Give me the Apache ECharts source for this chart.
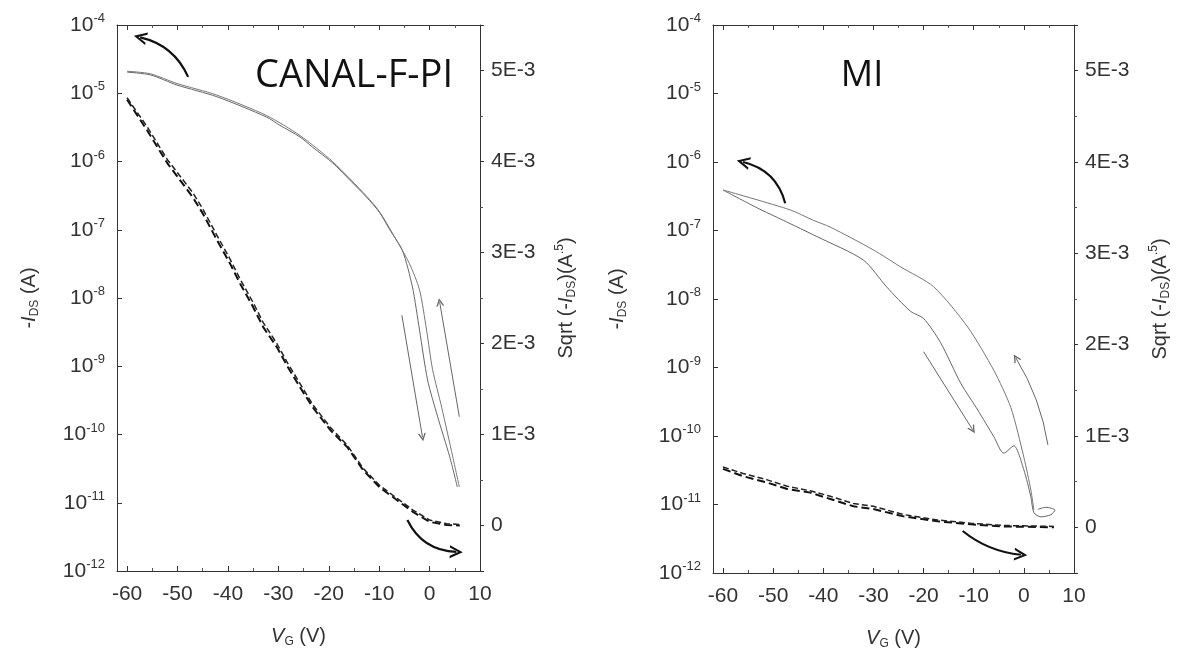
<!DOCTYPE html>
<html><head><meta charset="utf-8">
<script src="https://cdn.jsdelivr.net/npm/echarts@6/dist/echarts.min.js"></script>
<style>html,body{margin:0;padding:0;background:#fff}#c{width:1177px;height:658px}</style>
</head><body><div id="c"></div>
<script>
// ---------------- data ----------------
const panelTitles = ['CANAL-F-PI', 'MI'];

// CANAL-F-PI : -I_DS (log, left axis)
const canalFwdV = [-60, -55.4, -50.1, -42.2, -32.3, -29.7, -25.7, -23.2, -19.2, -16.4, -12.5, -9.9, -7.9, -5.4, -3.4, -2.0, -0.4, 1.6, 4.0, 5.5];
const canalFwdI = [2.04e-5, 1.86e-5, 1.32e-5, 8.9e-6, 4.47e-6, 3.39e-6, 2.29e-6, 1.62e-6, 9.5e-7, 5.9e-7, 3.0e-7, 1.78e-7, 1.0e-7, 5.0e-8, 1.45e-8, 3.4e-9, 6.3e-10, 1.82e-10, 4.7e-11, 1.7e-11];
const canalRevV = [-60, -55.4, -50.1, -42.2, -32.3, -25.7, -19.2, -12.5, -9.9, -6.3, -4.0, -2.0, -0.6, 0.6, 2.4, 4.6, 5.9];
const canalRevI = [2.10e-5, 1.93e-5, 1.39e-5, 9.4e-6, 4.7e-6, 2.4e-6, 9.9e-7, 3.1e-7, 1.82e-7, 6.5e-8, 3.2e-8, 1.32e-8, 3.4e-9, 8.9e-10, 2.5e-10, 4.7e-11, 1.7e-11];
// CANAL-F-PI : sqrt(-I_DS) (right axis)
const canalSqrtV = [-60, -56, -52, -47, -45, -42.2, -39.6, -37.6, -35, -33, -30.3, -28.1, -25.7, -23.2, -19.7, -16.3, -13.2, -9.9, -6.5, -3.3, 0, 3.4, 6];
const canalSqrtFwd = [4.68e-3, 4.34e-3, 3.98e-3, 3.61e-3, 3.43e-3, 3.14e-3, 2.88e-3, 2.66e-3, 2.40e-3, 2.18e-3, 1.96e-3, 1.74e-3, 1.52e-3, 1.30e-3, 1.05e-3, 0.86e-3, 0.61e-3, 0.42e-3, 0.28e-3, 0.15e-3, 0.04e-3, 0.005e-3, 0];
const canalSqrtRev = [4.70e-3, 4.38e-3, 4.02e-3, 3.66e-3, 3.48e-3, 3.19e-3, 2.93e-3, 2.71e-3, 2.45e-3, 2.23e-3, 2.00e-3, 1.78e-3, 1.56e-3, 1.33e-3, 1.08e-3, 0.88e-3, 0.63e-3, 0.44e-3, 0.30e-3, 0.17e-3, 0.06e-3, 0.02e-3, 0.01e-3];

// MI : -I_DS (log, left axis)
const miFwdV = [-60, -53.2, -48, -41.2, -32, -27.4, -22.6, -20, -16.6, -12.6, -9.2, -6, -4, -2, 0, 1.4, 2, 3.4, 5.4, 6.2, 4.4, 2.8];
const miFwdI = [3.9e-7, 2.14e-7, 1.41e-7, 8.1e-8, 3.7e-8, 1.51e-8, 6.6e-9, 5.2e-9, 2.3e-9, 5.9e-10, 2.4e-10, 9.8e-11, 5.6e-11, 7.2e-11, 3.2e-11, 1.29e-11, 7.6e-12, 6.6e-12, 7.1e-12, 8.3e-12, 9.1e-12, 8.5e-12];
const miRevV = [-60, -46.6, -42, -38.6, -30, -24.6, -18, -11.2, -6, -2.6, 0, 1.4, 2];
const miRevI = [3.9e-7, 2.0e-7, 1.41e-7, 1.12e-7, 5.2e-8, 2.95e-8, 1.51e-8, 3.9e-9, 9.1e-10, 2.6e-10, 4.9e-11, 1.62e-11, 8.3e-12];
// MI : sqrt(-I_DS) (right axis)
const miSqrtV = [-60, -56, -51.2, -47.2, -42.6, -38.6, -34, -30, -24, -17.2, -10.6, -4, 6];
const miSqrtFwd = [0.64e-3, 0.56e-3, 0.49e-3, 0.42e-3, 0.38e-3, 0.31e-3, 0.23e-3, 0.20e-3, 0.12e-3, 0.066e-3, 0.033e-3, 0.01e-3, 0];
const miSqrtRev = [0.66e-3, 0.59e-3, 0.52e-3, 0.45e-3, 0.40e-3, 0.34e-3, 0.26e-3, 0.23e-3, 0.14e-3, 0.08e-3, 0.045e-3, 0.02e-3, 0.01e-3];

// annotation arrows: [tailV, tailY, headV, headY, curveness]
const canalBigArrowLog = [-47.9, 1.74e-5, -57.4, 6.6e-5, -0.25];
const canalBigArrowSqrt = [-4.4, 0.06e-3, 5.3, -0.29e-3, -0.3];
const canalSmallArrows = [[-5.5, 5.6e-9, -1.4, 9.1e-11, 0], [5.9, 1.82e-10, 2.0, 8.7e-9, 0]];
const miBigArrowLog = [-47.6, 2.5e-7, -56, 1.0e-6, -0.3];
const miBigArrowSqrt = [-12.2, -0.04e-3, -0.6, -0.30e-3, -0.15];
const miSmallArrows = [[-20, 1.7e-9, -10.2, 1.23e-10, 0], [4.8, 7.4e-11, -1.6, 1.38e-9, -0.1]];

// ---------------- chart ----------------
const zip = (a, b) => a.map((v, i) => [v, b[i]]);
const FONT = 'Liberation Sans';
const TXT = '#333';
const chevron = 'path://M0,10 L5,0 L10,10 L8.2,10 L5,3.6 L1.8,10 Z';

const grids = [
  { left: 117, top: 25, width: 363, height: 546 },
  { left: 713, top: 25, width: 361, height: 548 }
];
const yNameGap = [76, 84];

const nameRich = {
  t: { fontSize: 20, fontFamily: FONT, color: TXT },
  i: { fontSize: 20, fontFamily: FONT, color: TXT, fontStyle: 'italic' },
  d: { fontSize: 12, fontFamily: FONT, color: TXT, padding: [12, 0, 0, 0] },
  s: { fontSize: 12, fontFamily: FONT, color: TXT, padding: [0, 0, 12, 0] }
};

const xAxes = [], yAxes = [];
grids.forEach((g, gi) => {
  const common = {
    gridIndex: gi, type: 'value', min: -62, max: 10, splitNumber: 7,
    axisLine: { onZero: false, lineStyle: { color: '#333', width: 1 } },
    splitLine: { show: false }
  };
  xAxes.push(Object.assign({}, common, {
    position: 'bottom',
    axisTick: { inside: true, length: 5, lineStyle: { color: '#333' } },
    minorTick: { show: true, splitNumber: 2, length: 3, lineStyle: { color: '#555' } },
    axisLabel: { showMinLabel: false, fontSize: 21, fontFamily: FONT, color: TXT, margin: 13 },
    name: '{i|V}{d|G}{t| (V)}', nameLocation: 'middle', nameGap: 53,
    nameTextStyle: { rich: nameRich }
  }));
  xAxes.push(Object.assign({}, common, {
    position: 'top',
    axisTick: { inside: true, length: 5, lineStyle: { color: '#333' } },
    minorTick: { show: true, splitNumber: 2, length: 3, lineStyle: { color: '#555' } },
    axisLabel: { show: false }
  }));
  yAxes.push({
    gridIndex: gi, type: 'log', logBase: 10, min: 1e-12, max: 1e-4, splitNumber: 8,
    position: 'left',
    axisLine: { show: true, onZero: false, lineStyle: { color: '#333', width: 1 } },
    axisTick: { show: true, inside: true, length: 5, lineStyle: { color: '#333' } },
    splitLine: { show: false },
    axisLabel: {
      margin: 12,
      formatter: v => '{b|10}{s|' + Math.round(Math.log10(v)) + '}',
      rich: {
        b: { fontSize: 21, fontFamily: FONT, color: TXT },
        s: { fontSize: 13, fontFamily: FONT, color: TXT, padding: [0, 0, 13, 0] }
      }
    },
    name: '{t|-}{i|I}{d|DS}{t| (A)}', nameLocation: 'middle', nameRotate: 90, nameGap: yNameGap[gi],
    nameTextStyle: { rich: nameRich }
  });
  yAxes.push({
    gridIndex: gi, type: 'value', min: -0.0005, max: 0.0055, splitNumber: 6,
    position: 'right',
    axisLine: { show: true, onZero: false, lineStyle: { color: '#333', width: 1 } },
    axisTick: { show: true, inside: false, length: 4, lineStyle: { color: '#333' } },
    minorTick: { show: true, splitNumber: 2, length: 3, lineStyle: { color: '#555' } },
    splitLine: { show: false },
    axisLabel: {
      showMinLabel: false, showMaxLabel: false, margin: 11,
      fontSize: 21, fontFamily: FONT, color: TXT,
      formatter: v => Math.abs(v) < 1e-9 ? '0' : Math.round(v * 1000) + 'E-3'
    },
    name: '{t|Sqrt (-}{i|I}{d|DS}{t|)(A}{s|.5}{t|)}', nameLocation: 'middle', nameRotate: 90, nameGap: 74,
    nameTextStyle: { rich: nameRich }
  });
});

function curve(gi, data, onSqrt, dashed, color, width) {
  return {
    type: 'line', xAxisIndex: gi * 2, yAxisIndex: gi * 2 + (onSqrt ? 1 : 0),
    data: data, showSymbol: false, symbol: 'none', smooth: dashed ? false : 0.25, silent: true,
    lineStyle: { color: color, width: width, type: dashed ? 'dashed' : 'solid' },
    animation: false
  };
}
function arrows(gi, onSqrt, list, color, width, size) {
  return {
    type: 'lines', coordinateSystem: 'cartesian2d', xAxisIndex: gi * 2, yAxisIndex: gi * 2 + (onSqrt ? 1 : 0),
    symbol: ['none', chevron], symbolSize: size, silent: true, z: 5,
    lineStyle: { color: color, width: width, opacity: 1 },
    data: list.map(a => ({ coords: [[a[0], a[1]], [a[2], a[3]]], lineStyle: { curveness: a[4] } })),
    animation: false
  };
}

const series = [
  curve(0, zip(canalFwdV, canalFwdI), false, false, '#666', 1),
  curve(0, zip(canalRevV, canalRevI), false, false, '#777', 1),
  curve(0, zip(canalSqrtV, canalSqrtFwd), true, true, '#111', 2),
  curve(0, zip(canalSqrtV, canalSqrtRev), true, true, '#222', 1.5),
  curve(1, zip(miFwdV, miFwdI), false, false, '#666', 1),
  curve(1, zip(miRevV, miRevI), false, false, '#777', 1),
  curve(1, zip(miSqrtV, miSqrtFwd), true, true, '#111', 2),
  curve(1, zip(miSqrtV, miSqrtRev), true, true, '#222', 1.5),
  arrows(0, false, [canalBigArrowLog], '#111', 2.2, 13),
  arrows(0, true, [canalBigArrowSqrt], '#111', 2.2, 13),
  arrows(0, false, canalSmallArrows, '#666', 1, 8),
  arrows(1, false, [miBigArrowLog], '#111', 2.2, 13),
  arrows(1, true, [miBigArrowSqrt], '#111', 2.2, 13),
  arrows(1, false, miSmallArrows, '#666', 1, 8)
];

const chart = echarts.init(document.getElementById('c'), null, { renderer: 'canvas' });
chart.setOption({
  animation: false,
  backgroundColor: '#fff',
  grid: grids.map(g => Object.assign({ outerBoundsMode: 'none', containLabel: false }, g)),
  xAxis: xAxes,
  yAxis: yAxes,
  series: series,
  graphic: [
    { type: 'text', x: 354, y: 76, style: { text: panelTitles[0], font: '38px "Open Sans"', fill: '#111', textAlign: 'center', textVerticalAlign: 'middle' } },
    { type: 'text', x: 862, y: 76, style: { text: panelTitles[1], font: '36px "Open Sans"', fill: '#111', textAlign: 'center', textVerticalAlign: 'middle' } }
  ]
});
</script></body></html>
